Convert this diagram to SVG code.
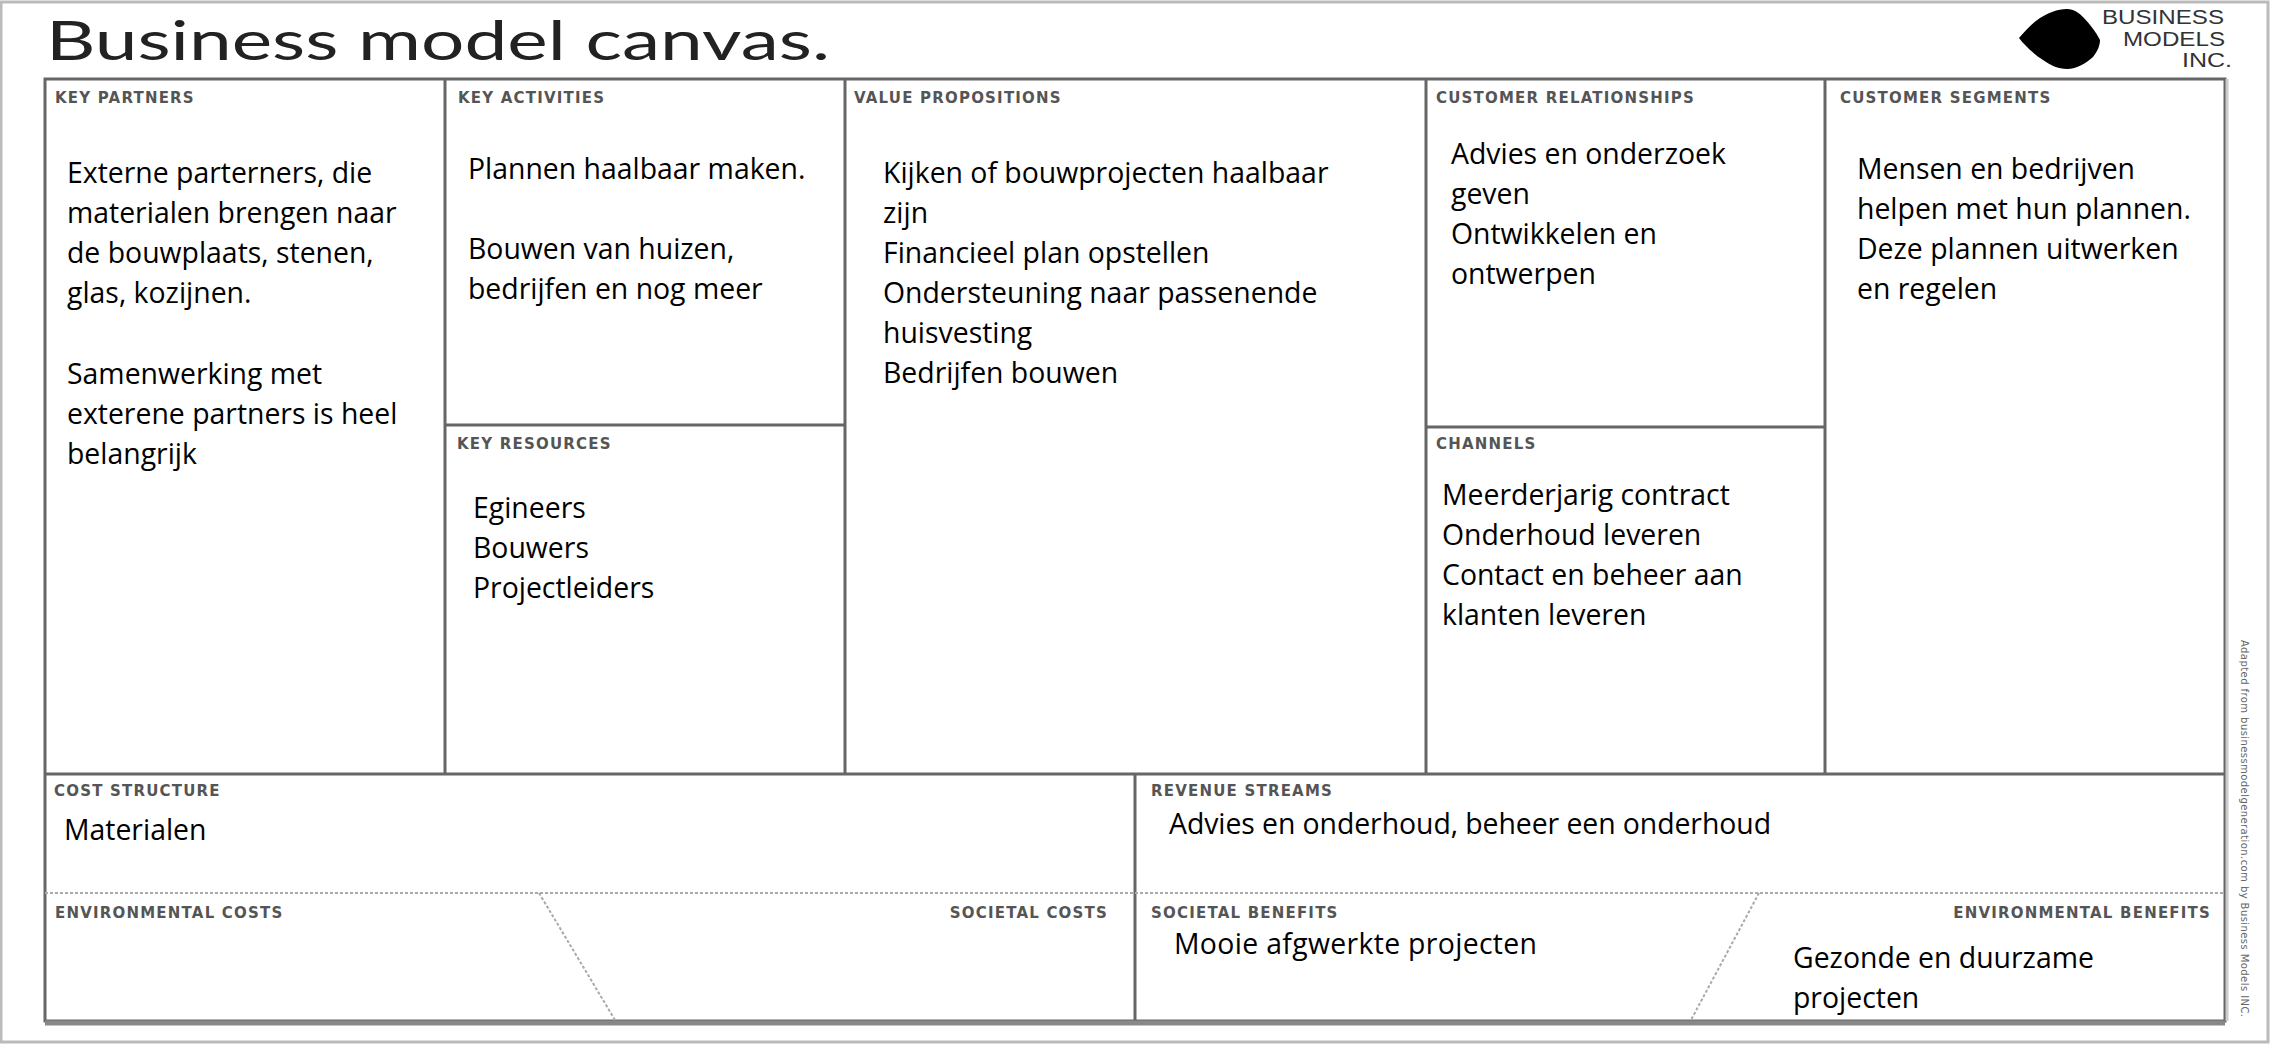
<svg xmlns="http://www.w3.org/2000/svg" width="2284" height="1058" viewBox="0 0 2284 1058">
<style>
.b{font-family:"Open Sans","Noto Sans","Liberation Sans",sans-serif;font-size:28.4px;fill:#000;transform:translateY(1px)}
.l{font-family:"DejaVu Sans",sans-serif;font-weight:bold;font-size:15px;letter-spacing:1.2px;fill:#555}
.f{fill:none;stroke:#666;stroke-width:3}
.d{fill:none;stroke:#aaa;stroke-width:2;stroke-dasharray:3 2}
</style>
<rect width="2284" height="1058" fill="#fff"/>
<rect x="1" y="2" width="2267" height="1040" fill="none" stroke="#bbb" stroke-width="3"/>
<g id="title"><text x="46" y="60" font-family="Lato,sans-serif" font-size="54" fill="#222" textLength="784" lengthAdjust="spacingAndGlyphs">Business model canvas.</text></g>
<g id="logo">
<path d="M2019 38C2026 30 2032 23 2040 18C2048 13 2057 9 2067 9C2074 9 2079 13 2083 17C2090 24 2096 32 2100 40C2100 46 2097 52 2093 57C2086 63 2077 69 2067 69C2058 69 2050 65 2043 60C2034 54 2025 46 2019 38Z" fill="#000"/>
<g font-family="Liberation Sans,sans-serif" font-size="20" fill="#333"><text x="2102" y="24" textLength="122" lengthAdjust="spacingAndGlyphs">BUSINESS</text><text x="2123" y="46" textLength="102" lengthAdjust="spacingAndGlyphs">MODELS</text><text x="2182" y="67" textLength="50" lengthAdjust="spacingAndGlyphs">INC.</text></g>
</g>
<g id="connectors">
<rect x="45" y="79" width="2180" height="942" class="f"/>
<path class="f" d="M445 79V774M845 79V774M1426 79V774M1825 79V774M45 774H2225M1135 774V1021M445 425H845M1426 427H1825"/>
<path d="M2227 79V1021" stroke="#ccc" stroke-width="3"/>
<path d="M45 1023H2225" stroke="#888" stroke-width="5"/>
<path class="d" d="M45 893H2225"/>
<path class="d" d="M539 893L615 1020M1759 893L1691 1020"/>
</g>
<g id="key-partners"><text class="l" x="55" y="103">KEY PARTNERS</text>
<g class="b"><text x="67" y="182">Externe parterners, die</text><text x="67" y="222">materialen brengen naar</text><text x="67" y="262">de bouwplaats, stenen,</text><text x="67" y="302">glas, kozijnen.</text><text x="67" y="383">Samenwerking met</text><text x="67" y="423">exterene partners is heel</text><text x="67" y="463">belangrijk</text></g></g>
<g id="key-activities"><text class="l" x="458" y="103">KEY ACTIVITIES</text>
<g class="b"><text x="468" y="178">Plannen haalbaar maken.</text><text x="468" y="258">Bouwen van huizen,</text><text x="468" y="298">bedrijfen en nog meer</text></g></g>
<g id="key-resources"><text class="l" x="457" y="449">KEY RESOURCES</text>
<g class="b"><text x="473" y="517">Egineers</text><text x="473" y="557">Bouwers</text><text x="473" y="597">Projectleiders</text></g></g>
<g id="value-propositions"><text class="l" x="854" y="103">VALUE PROPOSITIONS</text>
<g class="b"><text x="883" y="182">Kijken of bouwprojecten haalbaar</text><text x="883" y="222">zijn</text><text x="883" y="262">Financieel plan opstellen</text><text x="883" y="302">Ondersteuning naar passenende</text><text x="883" y="342">huisvesting</text><text x="883" y="382">Bedrijfen bouwen</text></g></g>
<g id="customer-relationships"><text class="l" x="1436" y="103">CUSTOMER RELATIONSHIPS</text>
<g class="b"><text x="1451" y="163">Advies en onderzoek</text><text x="1451" y="203">geven</text><text x="1451" y="243">Ontwikkelen en</text><text x="1451" y="283">ontwerpen</text></g></g>
<g id="channels"><text class="l" x="1436" y="449">CHANNELS</text>
<g class="b"><text x="1442" y="504">Meerderjarig contract</text><text x="1442" y="544">Onderhoud leveren</text><text x="1442" y="584">Contact en beheer aan</text><text x="1442" y="624">klanten leveren</text></g></g>
<g id="customer-segments"><text class="l" x="1840" y="103">CUSTOMER SEGMENTS</text>
<g class="b"><text x="1857" y="178">Mensen en bedrijven</text><text x="1857" y="218">helpen met hun plannen.</text><text x="1857" y="258">Deze plannen uitwerken</text><text x="1857" y="298">en regelen</text></g></g>
<g id="cost-structure"><text class="l" x="54" y="796">COST STRUCTURE</text><text class="b" x="64" y="839">Materialen</text></g>
<g id="revenue-streams"><text class="l" x="1151" y="796">REVENUE STREAMS</text><text class="b" x="1169" y="833" textLength="602">Advies en onderhoud, beheer een onderhoud</text></g>
<g id="environmental-costs"><text class="l" x="55" y="918">ENVIRONMENTAL COSTS</text></g>
<g id="societal-costs"><text class="l" x="1108" y="918" text-anchor="end">SOCIETAL COSTS</text></g>
<g id="societal-benefits"><text class="l" x="1151" y="918">SOCIETAL BENEFITS</text><text class="b" x="1174" y="953" textLength="363">Mooie afgwerkte projecten</text></g>
<g id="environmental-benefits"><text class="l" x="2211" y="918" text-anchor="end">ENVIRONMENTAL BENEFITS</text><text class="b" x="1793" y="967">Gezonde en duurzame</text><text class="b" x="1793" y="1007">projecten</text></g>
<g id="credit"><text transform="translate(2241 640) rotate(90)" font-family="DejaVu Sans,sans-serif" font-size="10" fill="#666" textLength="377">Adapted from businessmodelgeneration.com by Business Models INC.</text></g>
</svg>
